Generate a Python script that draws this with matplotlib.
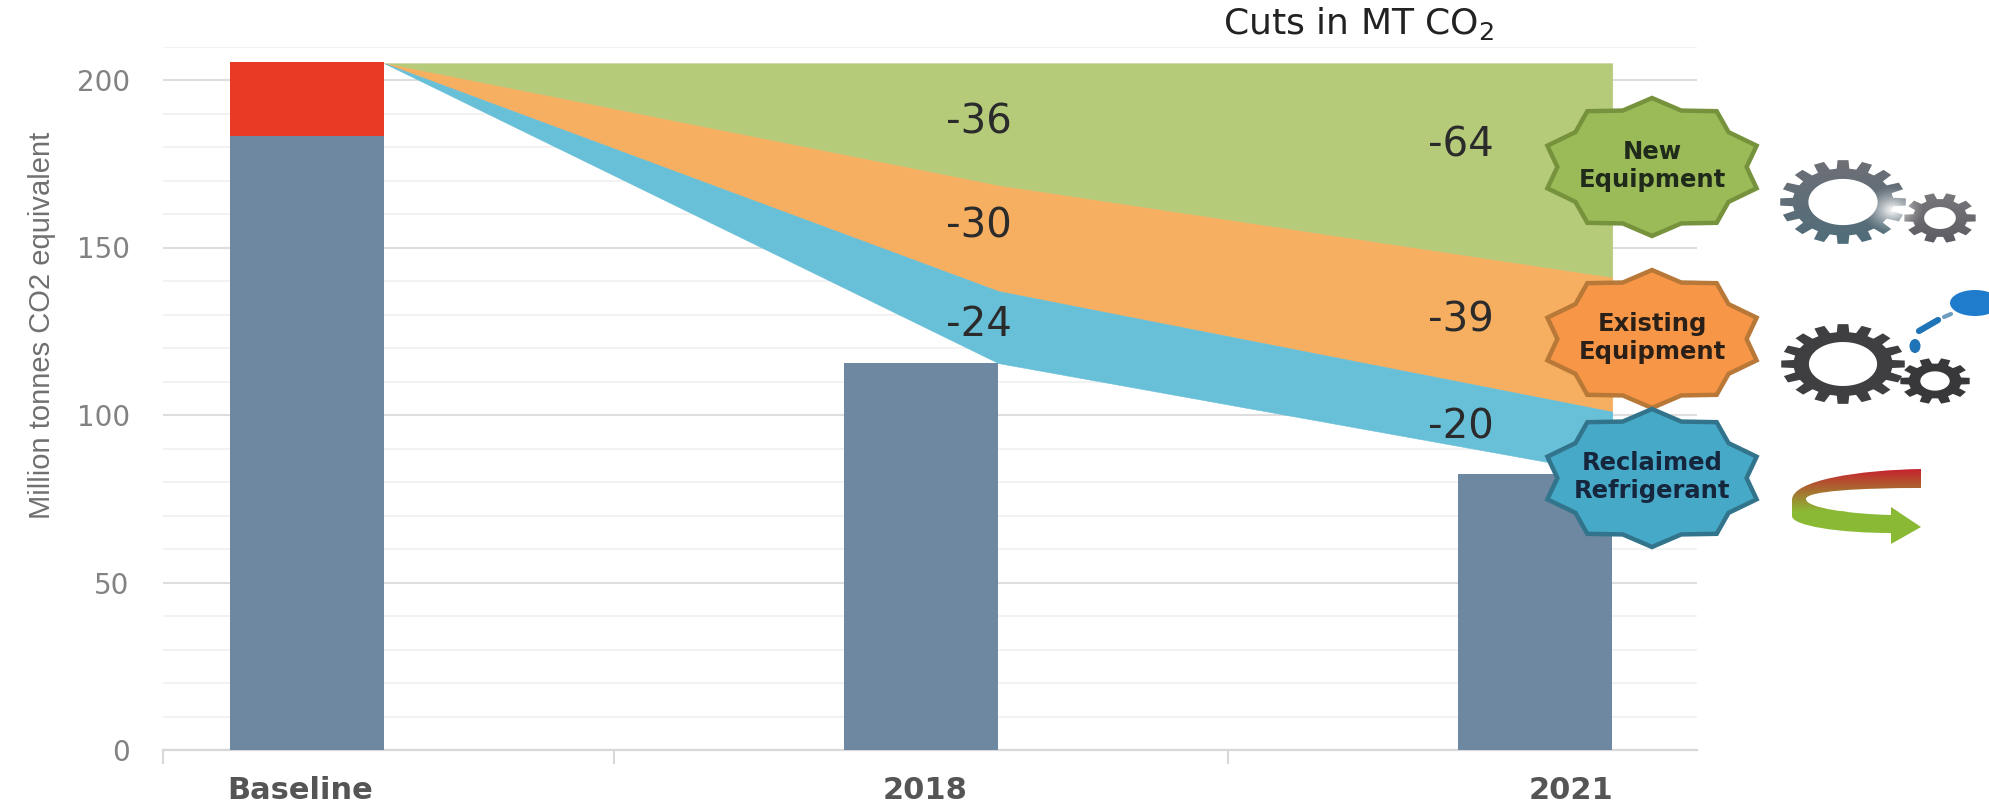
import numpy as np
import matplotlib
matplotlib.use("Agg")
import matplotlib.pyplot as plt
from matplotlib.path import Path
from matplotlib.patches import PathPatch, Polygon, Ellipse

categories = ["Baseline", "2018", "2021"]
remaining = [183.4, 115.5, 82.5]
baseline_top = 205.5
upper_edge = [205, 205, 205]
green_lower = [205, 168.5, 141]
orange_lower = [205, 137, 101]
blue_lower = [205, 115.5, 82.5]
cuts_2018 = ["-36", "-30", "-24"]
cuts_2021 = ["-64", "-39", "-20"]
cuts_2018_y = [187.3, 156.3, 126.8]
cuts_2021_y = [180.3, 128.3, 96.3]
badge_labels = ["New\nEquipment", "Existing\nEquipment", "Reclaimed\nRefrigerant"]

W, H = 1989, 807
fig = plt.figure(figsize=(W / 100, H / 100), dpi=100, facecolor="white")
# pixel geometry of the plot area
L, R, B, T = 163, 1697, 750, 46.5
ax = fig.add_axes([L / W, 1 - B / H, (R - L) / W, (B - T) / H])
ax.set_xlim(-0.2345, 2.264)
ax.set_ylim(0, 210)
for s in ("top", "right", "left"):
    ax.spines[s].set_visible(False)
ax.spines["bottom"].set_color("#d8d8d8")
ax.spines["bottom"].set_linewidth(1.6)
ax.set_axisbelow(True)

ax.set_yticks(np.arange(0, 201, 50))
ax.set_yticks(np.arange(0, 211, 10), minor=True)
ax.grid(axis="y", which="major", color="#dedede", lw=1.5)
ax.grid(axis="y", which="minor", color="#f1f1f1", lw=1.3)
ax.tick_params(axis="y", which="both", length=0)
ax.tick_params(axis="y", which="major", labelsize=20, labelcolor="#828282", pad=24)
ax.set_ylabel("Million tonnes CO2 equivalent", fontsize=21, color="#707070",
              family="Liberation Sans")
ax.yaxis.set_label_coords(-0.0695, 0.603)

# category labels sit a little off the bar centres in the reference
ax.set_xticks([-0.011, 1.006, 2.059])
ax.set_xticklabels(categories, fontsize=22, fontweight="bold", color="#555555")
ax.tick_params(axis="x", which="major", length=0, pad=19)
ax.set_xticks([-0.2345, 0.5, 1.5], minor=True)
ax.tick_params(axis="x", which="minor", length=10, color="#d8d8d8", width=1.5)

x_bars = [0, 1, 2]
bw = 0.252
ax.bar(x_bars, remaining, width=bw, color="#6d88a0", zorder=3)
ax.bar([0], [baseline_top - remaining[0]], bottom=[remaining[0]], width=bw,
       color="#e83a24", zorder=3)

xw = [bw / 2, 1 + bw / 2, 2 + bw / 2]
ax.fill_between(xw, upper_edge, green_lower, color="#b5cb7a", lw=0.4, zorder=4)
ax.fill_between(xw, green_lower, orange_lower, color="#f6ae60", lw=0.4, zorder=4)
ax.fill_between(xw, orange_lower, blue_lower, color="#68bfd8", lw=0.4, zorder=4)

for lab, y in zip(cuts_2018, cuts_2018_y):
    ax.text(1.094, y, lab, fontsize=29, color="#2b2b2b", ha="center", va="center", zorder=6)
for lab, y in zip(cuts_2021, cuts_2021_y):
    ax.text(1.879, y, lab, fontsize=29, color="#2b2b2b", ha="center", va="center", zorder=6)

# overlay in pixel coordinates for title, badges and icons
ov = fig.add_axes([0, 0, 1, 1], facecolor="none")
ov.set_xlim(0, W)
ov.set_ylim(H, 0)
ov.axis("off")

ov.text(1359, 23, "Cuts in MT CO$_2$", fontsize=26, color="#222222", ha="center", va="center",
        math_fontfamily="dejavusans")


def star(cx, cy, rx=110, ry=69, inner=0.86, n=10):
    pts = []
    for i in range(2 * n):
        a = np.pi / 2 + i * np.pi / n
        r = 1.0 if i % 2 == 0 else inner
        pts.append((cx + rx * r * np.cos(a), cy - ry * r * np.sin(a)))
    return pts


badges = [(1652, 167, "#9bbb59", "#76923c", "#1f2a1a"),
          (1652, 339, "#f79646", "#b87838", "#2a2018"),
          (1652, 478, "#46a9c7", "#31748c", "#16263c")]
for (cx, cy, fc, ec, tc), lab in zip(badges, badge_labels):
    ov.add_patch(Polygon(star(cx, cy), closed=True, fc=fc, ec=ec, lw=3.2, zorder=5, joinstyle="miter"))
    ov.text(cx, cy - 1, lab, fontsize=17.5, fontweight="bold", color=tc, ha="center", va="center",
            linespacing=1.25, zorder=6)


def gear_path(cx, cy, rx, ry, root, hole, teeth):
    pts = []
    step = 2 * np.pi / teeth
    for i in range(teeth):
        a = i * step
        for da, r in ((-0.32, root), (-0.22, 1.0), (0.22, 1.0), (0.32, root)):
            t = a + da * step
            pts.append((cx + rx * r * np.cos(t), cy + ry * r * np.sin(t)))
    verts = pts + [pts[0]]
    codes = [Path.MOVETO] + [Path.LINETO] * (len(pts) - 1) + [Path.CLOSEPOLY]
    th = np.linspace(0, -2 * np.pi, 61)
    verts += list(zip(cx + rx * hole * np.cos(th), cy + ry * hole * np.sin(th)))
    codes += [Path.MOVETO] + [Path.LINETO] * 59 + [Path.CLOSEPOLY]
    return Path(verts, codes)


def gradient_fill(path, x0, x1, y0, y1, c0, c1, zorder=5):
    c0 = np.array(matplotlib.colors.to_rgb(c0))
    c1 = np.array(matplotlib.colors.to_rgb(c1))
    t = np.linspace(0, 1, 64)
    img = (c0[None, :] * (1 - t[:, None]) + c1[None, :] * t[:, None])[:, None, :]
    im = ov.imshow(img, extent=(x0, x1, y1, y0), aspect="auto", zorder=zorder, interpolation="bilinear")
    patch = PathPatch(path, transform=ov.transData, fc="none", ec="none")
    ov.add_patch(patch)
    im.set_clip_path(patch)


# gears next to "New Equipment"
gradient_fill(gear_path(1843, 202, 63, 42, 0.80, 0.55, 16), 1780, 1906, 160, 244, "#6f6f76", "#4f6d7a")
gradient_fill(gear_path(1940, 218, 36, 25, 0.76, 0.44, 10), 1904, 1976, 193, 243, "#77777c", "#5c5c62")
# glare where the gears meet
g = np.linspace(-1, 1, 80)
gx, gy = np.meshgrid(g, g)
glow = np.ones((80, 80, 4))
glow[..., 3] = np.clip(1 - np.hypot(gx, gy), 0, 1) ** 1.4
ov.imshow(glow, extent=(1860, 1925, 235, 185), aspect="auto", zorder=6)

# gears and oil can next to "Existing Equipment"
ov.add_patch(PathPatch(gear_path(1843, 364, 62, 40, 0.80, 0.55, 16), fc="#3f3f42", ec="none", zorder=5))
ov.add_patch(PathPatch(gear_path(1935, 381, 35, 23, 0.76, 0.42, 10), fc="#38383a", ec="none", zorder=5))
ov.add_patch(Ellipse((1975, 303), 50, 26, fc="#1f7ccc", ec="none", zorder=5))
ov.plot([1919, 1938], [331, 320], color="#1f74b8", lw=4.5, solid_capstyle="round", zorder=5)
ov.plot([1944, 1951], [317, 314], color="#6c9cc0", lw=3, solid_capstyle="round", zorder=5)
ov.add_patch(Ellipse((1915, 346), 11, 14, fc="#1f74b8", ec="none", zorder=5))

# reuse arrow next to "Reclaimed Refrigerant"
M, LN, C, CL = Path.MOVETO, Path.LINETO, Path.CURVE4, Path.CLOSEPOLY
arrow_v = [(1921, 469), (1860, 470), (1792, 480), (1792, 500),
           (1792, 516),
           (1792, 526), (1840, 533), (1891, 533),
           (1891, 544), (1921, 527), (1891, 507), (1891, 515),
           (1850, 514), (1806, 508), (1806, 499),
           (1806, 491), (1860, 488), (1921, 488),
           (1921, 469)]
arrow_c = [M, C, C, C, LN, C, C, C, LN, LN, LN, LN, C, C, C, C, C, C, CL]
ar = Path(arrow_v, arrow_c)
gradient_fill(ar, 1790, 1923, 468, 512, "#c81f2d", "#8aba35")
gradient_fill(ar, 1790, 1923, 511, 546, "#8aba35", "#8aba35")
ov.set_xlim(0, W)
ov.set_ylim(H, 0)

fig.savefig("out.png", dpi=100)
